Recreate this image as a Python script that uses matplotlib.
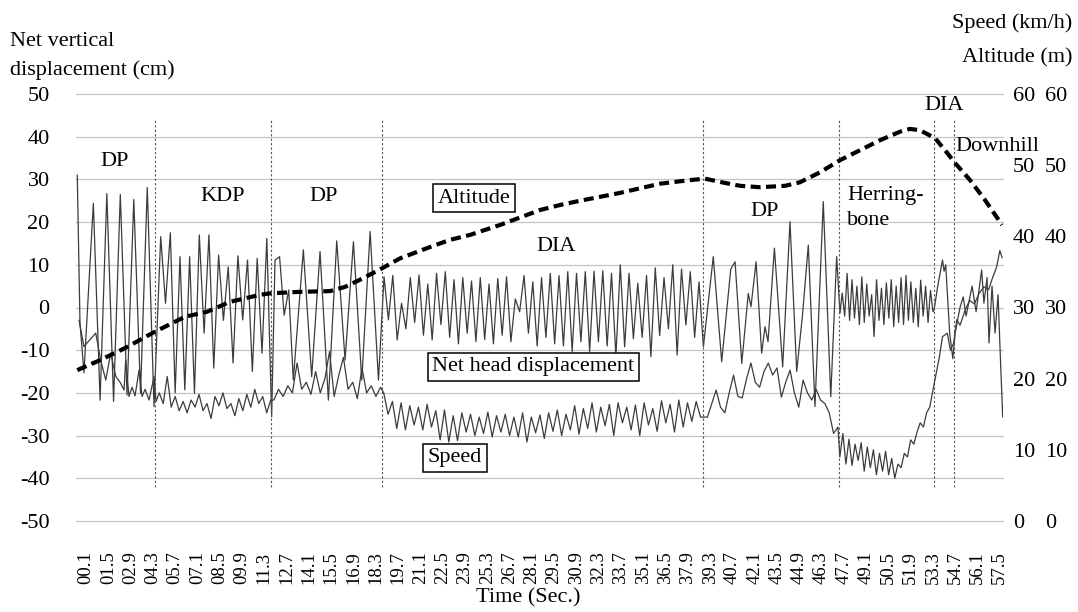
import numpy as np
import matplotlib.pyplot as plt

plt.rcParams['font.family'] = ['Liberation Serif', 'DejaVu Serif']
plt.rcParams['axes.unicode_minus'] = False

# ---- data ----
# time axis labels (seconds)
tick_t = [round(0.1 + 1.4 * k, 1) for k in range(42)]
tick_lbl = ['%04.1f' % t for t in tick_t]

# phase boundaries (s)
phase_t = [4.43, 11.72, 18.69, 38.86, 47.40, 53.37, 54.62]

# net head displacement (cm): extremes per phase
head_start_t = [-0.45, -0.28, -0.03]
head_start = [31.0, -3.6, -15.3]
head_dp1_span = (0.56, 4.37)
head_dp1 = [24.4, -21.7, 26.7, -22.0, 26.5, -20.5, 25.3, -20.1, 28.1, -23.2]
head_kdp_span = (4.79, 11.76)
head_kdp = [16.6, 1.0, 17.5, -20.0, 11.9, -19.3, 11.9, -20.1, 17.0, -6.0, 17.0, -14.2,
            12.3, -3.0, 9.5, -13.0, 12.1, -2.9, 11.1, -15.0, 11.5, -10.7, 16.2, -25.6]
head_dp2a_span = (11.97, 13.12)
head_dp2a = [11.1, 11.9, -1.8, 4.1, -17.0]
head_dp2b_span = (13.75, 18.47)
head_dp2b = [13.5, -16.2, 13.1, -21.7, 15.6, -12.3, 15.4, -17.0, 17.8, -17.0]
head_dia_span = (18.82, 38.88)
head_dia = [7.2, -2.9, 7.5, -7.6, 1.0, -5.0, 7.0, -3.5, 7.6, -6.5, 5.5, -7.6, 8.0, -4.0,
            8.4, -7.0, 6.5, -8.5, 7.0, -6.0, 6.2, -8.0, 7.0, -7.5, 5.5, -8.5, 6.8, -6.5,
            7.2, -8.0, 2.0, -1.0, 7.5, -6.0, 6.0, -9.0, 7.0, -7.0, 8.0, -8.5, 7.5, -9.0,
            8.4, -10.3, 8.0, -8.0, 8.4, -10.3, 8.5, -8.0, 8.6, -9.0, 8.0, -11.5, 10.0,
            -9.2, 8.0, -7.3, 5.7, -7.0, 7.5, -11.5, 9.3, -6.6, 7.0, -5.0, 10.0, -11.1,
            9.0, -4.1, 8.4, -7.0, 6.0, -9.2]
head_dp3_t = [39.50, 40.03, 40.60, 40.87, 41.29, 41.70, 41.87, 42.19, 42.54, 42.75,
              42.94, 43.34, 43.86, 44.32, 44.74, 45.10, 45.47, 45.89, 46.41, 46.88,
              47.25, 47.46]
head_dp3 = [11.9, -12.7, 9.0, 10.7, -13.1, 3.3, 0.2, 10.7, -10.7, -4.5,
            -8.0, 13.9, -13.9, 20.1, -15.0, -2.0, 14.6, -23.2, 24.8, -20.9,
            11.9, -1.3]
head_hb_span = (47.60, 53.30)
head_hb = [3.4, -2.0, 8.0, -3.0, 6.5, -2.5, 5.0, -4.0, 7.2, -3.5, 5.5, -2.0, 3.0, -6.8,
           6.5, -3.0, 4.5, -4.0, 5.8, -2.5, 6.5, -4.5, 5.0, -3.5, 7.0, -4.0, 7.5, -3.0,
           6.0, -3.5, 4.5, -4.5, 6.4, -2.0, 5.0, -3.5, 4.0, -1.0]
head_end_t = [53.37, 53.60, 53.90, 54.00, 54.10, 54.35, 54.55, 54.69, 55.00, 55.20,
              55.38, 55.76, 56.01, 56.36, 56.50, 56.70, 56.82, 57.01, 57.20, 57.39,
              57.51, 57.68]
head_end = [-0.6, 5.0, 11.1, 8.5, 10.0, -6.0, -12.0, -6.0, 0.0, 2.5,
            -2.0, 5.0, -1.0, 8.8, 1.0, 7.0, -8.3, 5.0, -6.0, 3.0,
            -9.2, -25.6]

# speed (km/h)
speed_dp1_t = [-0.34, -0.03, 0.35, 0.71, 1.02, 1.34, 1.65, 1.97, 2.24, 2.49, 2.59,
               2.80, 2.99, 3.18, 3.43, 3.62, 3.81, 4.06, 4.25, 4.37, 4.50]
speed_dp1 = [28.2, 24.5, 25.5, 26.4, 22.6, 19.8, 23.6, 20.3, 19.5, 18.4, 22.6,
             17.5, 18.8, 17.6, 21.2, 17.5, 18.5, 17.0, 19.0, 20.3, 16.8]
speed_kdp_span = (4.70, 11.70)
speed_kdp = [18.0, 16.5, 20.3, 16.0, 17.5, 15.5, 16.8, 15.2, 17.0, 16.0, 17.8, 15.5,
             16.5, 14.4, 17.5, 16.2, 18.0, 15.8, 16.5, 14.8, 17.2, 15.5, 17.8, 16.0,
             18.5, 16.5, 17.5, 15.2, 17.0]
speed_dp2_span = (11.90, 18.60)
speed_dp2 = [17.0, 18.5, 17.5, 19.0, 18.0, 22.2, 18.5, 19.5, 17.8, 21.0, 18.0, 20.0,
             23.8, 17.5, 20.5, 23.0, 18.5, 19.5, 17.2, 21.5, 18.0, 19.0, 17.5, 18.8]
speed_dia_span = (18.80, 38.70)
speed_dia = [18.0, 15.0, 16.8, 13.0, 16.6, 12.8, 16.2, 13.5, 16.0, 12.8, 16.4, 13.2,
             15.5, 11.4, 15.6, 11.1, 14.8, 11.3, 15.2, 12.5, 15.0, 12.0, 14.6, 12.3,
             15.3, 11.8, 14.8, 12.5, 15.0, 12.0, 14.6, 11.8, 15.2, 11.1, 14.6, 12.4,
             14.9, 11.6, 15.2, 12.6, 15.6, 12.0, 15.0, 12.8, 16.2, 12.2, 15.8, 13.0,
             16.6, 12.5, 16.0, 13.4, 16.4, 12.0, 16.6, 13.8, 16.0, 12.8, 16.3, 12.0,
             16.6, 13.5, 15.8, 12.6, 16.9, 13.8, 16.4, 12.5, 17.0, 13.2, 16.6, 14.0,
             16.8, 14.6]
speed_dp3_span = (38.86, 47.33)
speed_dp3 = [14.6, 14.6, 16.5, 18.4, 16.0, 15.2, 18.0, 20.5, 17.5, 17.3, 20.0, 22.2,
             19.5, 18.8, 21.0, 22.2, 20.5, 21.5, 17.4, 19.5, 21.2, 18.0, 16.0, 19.8,
             18.0, 17.0, 18.5, 17.0, 16.5, 15.2, 12.3, 13.2]
speed_hb1_span = (47.45, 50.90)
speed_hb1 = [9.0, 12.3, 8.0, 11.5, 7.8, 10.8, 8.5, 11.0, 7.0, 10.4, 7.5, 10.0, 6.5,
             9.5, 7.0, 9.8, 6.5, 8.8, 6.0]
speed_hb2_span = (51.10, 53.30)
speed_hb2 = [8.0, 7.5, 9.5, 9.0, 11.4, 10.8, 12.5, 13.8, 13.2, 15.2, 16.0, 18.4]
speed_end_t = [53.70, 53.90, 54.20, 54.40, 54.60, 54.80, 55.00, 55.30, 55.60, 55.90,
               56.20, 56.50, 56.80, 57.00, 57.30, 57.50, 57.65]
speed_end = [23.0, 25.9, 26.4, 24.0, 25.0, 28.3, 27.5, 29.5, 31.0, 30.5,
             32.0, 32.9, 32.5, 33.9, 35.7, 38.0, 37.0]

# altitude (m)
alt_t = [-0.45, 0.98, 2.55, 4.43, 6.32, 7.70, 9.15, 11.07, 11.72, 13.54, 15.43, 16.37,
         17.31, 18.69, 19.82, 21.71, 22.96, 24.22, 26.11, 28.62, 29.87, 31.13, 33.64,
         36.16, 38.04, 38.98, 40.24, 41.18, 42.44, 44.01, 44.95, 46.21, 47.46, 48.72,
         49.97, 51.23, 51.86, 52.49, 53.43, 54.06, 54.69, 55.63, 56.57, 57.64]
alt_m = [21.2, 22.6, 24.3, 26.6, 28.7, 29.4, 30.8, 31.8, 32.0, 32.2, 32.3, 32.9,
         33.9, 35.5, 36.9, 38.5, 39.5, 40.2, 41.6, 43.7, 44.4, 45.0, 46.1,
         47.4, 47.9, 48.1, 47.5, 47.1, 46.9, 47.1, 47.6, 49.0, 50.7, 52.1,
         53.5, 54.7, 55.1, 54.9, 53.8, 52.1, 50.3, 47.9, 45.1, 41.6]


def spread(span, vals):
    return list(np.linspace(span[0], span[1], len(vals)))


head_t = (head_start_t + spread(head_dp1_span, head_dp1) + spread(head_kdp_span, head_kdp)
          + spread(head_dp2a_span, head_dp2a) + spread(head_dp2b_span, head_dp2b)
          + spread(head_dia_span, head_dia) + head_dp3_t + spread(head_hb_span, head_hb)
          + head_end_t)
head_v = (head_start + head_dp1 + head_kdp + head_dp2a + head_dp2b + head_dia
          + head_dp3 + head_hb + head_end)

speed_t = (speed_dp1_t + spread(speed_kdp_span, speed_kdp) + spread(speed_dp2_span, speed_dp2)
           + spread(speed_dia_span, speed_dia) + spread(speed_dp3_span, speed_dp3)
           + spread(speed_hb1_span, speed_hb1) + spread(speed_hb2_span, speed_hb2)
           + speed_end_t)
speed_v = (speed_dp1 + speed_kdp + speed_dp2 + speed_dia + speed_dp3 + speed_hb1
           + speed_hb2 + speed_end)

# ---- figure ----
W, H = 1078, 612
fig = plt.figure(figsize=(W / 100, H / 100), dpi=100)
ax = fig.add_axes([76 / W, 1 - 521 / H, (1003 - 76) / W, (521 - 94) / H])
ax.set_xlim(-0.53, 57.70)
ax.set_ylim(-50, 50)
ax.set_yticks(range(-50, 51, 10))
for yv in range(-50, 51, 10):
    ax.axhline(yv, color='#c4c4c4', lw=0.9, zorder=0, clip_on=False)
for s in ax.spines.values():
    s.set_visible(False)
ax.tick_params(axis='y', length=0, pad=19, labelsize=16)
ax.set_xticks(tick_t)
ax.set_xticklabels(tick_lbl, rotation=90, fontsize=13.5)
ax.tick_params(axis='x', length=0, pad=22)

ax.plot(head_t, head_v, color='#3c3c3c', lw=0.9)
ax.vlines(phase_t, -42, 44, colors='#555555', linestyles=(0, (2, 2)), lw=0.8)

ax2 = ax.twinx()
ax3 = ax.twinx()
for a, p in ((ax2, 7), (ax3, 30)):
    a.set_ylim(0, 60)
    a.set_yticks(range(0, 61, 10))
    a.tick_params(axis='y', length=0, pad=p, labelsize=16)
    for s in a.spines.values():
        s.set_visible(False)

ax2.plot(speed_t, speed_v, color='#3c3c3c', lw=0.9)
ax2.plot(alt_t, alt_m, color='black', lw=3.0, linestyle=(0, (2.4, 1.3)))

box = dict(boxstyle='square,pad=0.2', fc='white', ec='black', lw=1.1)
tr = ax.transData
ax3.text(1.92, 34.1, 'DP', transform=tr, ha='center', va='center', fontsize=16)
ax3.text(8.7, 25.9, 'KDP', transform=tr, ha='center', va='center', fontsize=16)
ax3.text(15.0, 25.9, 'DP', transform=tr, ha='center', va='center', fontsize=16)
ax3.text(24.47, 25.6, 'Altitude', transform=tr, ha='center', va='center', fontsize=16, bbox=box)
ax3.text(29.6, 14.4, 'DIA', transform=tr, ha='center', va='center', fontsize=16)
ax3.text(42.75, 22.4, 'DP', transform=tr, ha='center', va='center', fontsize=16)
ax3.text(47.9, 26.3, 'Herring-', transform=tr, ha='left', va='center', fontsize=16)
ax3.text(47.9, 20.3, 'bone', transform=tr, ha='left', va='center', fontsize=16)
ax3.text(54.0, 47.2, 'DIA', transform=tr, ha='center', va='center', fontsize=16)
ax3.text(54.69, 37.6, 'Downhill', transform=tr, ha='left', va='center', fontsize=16)
ax3.text(28.2, -13.9, 'Net head displacement', transform=tr, ha='center', va='center',
         fontsize=16, bbox=box)
ax3.text(23.28, -35.2, 'Speed', transform=tr, ha='center', va='center', fontsize=16, bbox=box)

fig.text(10 / W, 1 - 42 / H, 'Net vertical', ha='left', va='center', fontsize=16)
fig.text(10 / W, 1 - 70 / H, 'displacement (cm)', ha='left', va='center', fontsize=16)
fig.text(1072 / W, 1 - 23 / H, 'Speed (km/h)', ha='right', va='center', fontsize=16)
fig.text(1072 / W, 1 - 58 / H, 'Altitude (m)', ha='right', va='center', fontsize=16)
fig.text(528 / W, 1 - 598 / H, 'Time (Sec.)', ha='center', va='center', fontsize=16)

fig.savefig('out.png', dpi=100)
